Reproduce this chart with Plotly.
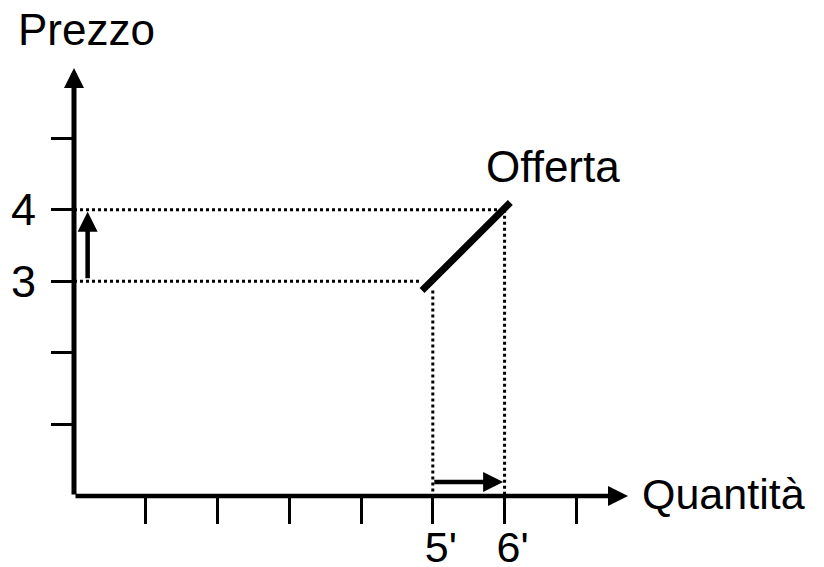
import plotly.graph_objects as go

# ---- data ----
quantities = [5, 6]            # Q before / after
prices = [3, 4]                # P before / after
supply_q = [4.85, 6.08]        # supply segment ("Offerta")
supply_p = [2.87, 4.10]
x_tick_vals = [1, 2, 3, 4, 5, 6, 7]
x_tick_text = ["", "", "", "", "5'", "6'", ""]
y_tick_vals = [1, 2, 3, 4, 5]
y_tick_text = ["", "", "3", "4", ""]
x_max = 7.72
y_max = 5.98

FONT = "Liberation Sans, Arial, sans-serif"

fig = go.Figure()

dot = dict(color="black", width=3, dash="dot")
# horizontal guides
fig.add_trace(go.Scatter(x=[0, quantities[1]], y=[prices[1], prices[1]], mode="lines", line=dot, hoverinfo="skip"))
fig.add_trace(go.Scatter(x=[0, supply_q[0]], y=[prices[0], prices[0]], mode="lines", line=dot, hoverinfo="skip"))
# vertical guides
fig.add_trace(go.Scatter(x=[quantities[1], quantities[1]], y=[prices[1], 0], mode="lines", line=dot, hoverinfo="skip"))
fig.add_trace(go.Scatter(x=[quantities[0], quantities[0]], y=[supply_p[0], 0], mode="lines", line=dot, hoverinfo="skip"))

# supply line
fig.add_trace(go.Scatter(x=supply_q, y=supply_p, mode="lines",
                         line=dict(color="black", width=7), hoverinfo="skip"))

def arrow(x0, y0, x1, y1, width=4.5):
    fig.add_annotation(x=x1, y=y1, ax=x0, ay=y0, xref="x", yref="y",
                       axref="x", ayref="y", showarrow=True, text="",
                       arrowhead=2, arrowsize=4.0 / width, arrowwidth=width,
                       arrowcolor="black", standoff=0)

# axes with arrow heads
arrow(0, 0, x_max, 0, 4.5)
arrow(0, 0, 0, y_max, 5)
# shift arrows
arrow(0.19, prices[0] + 0.02, 0.19, prices[1] - 0.03, 4.5)
arrow(quantities[0], 0.195, quantities[1] - 0.02, 0.195, 4.5)

# text labels
fig.add_annotation(x=-0.105, y=1.09, xref="paper", yref="paper", text="Prezzo", showarrow=False,
                   xanchor="left", yanchor="middle", font=dict(family=FONT, size=44, color="black"))
fig.add_annotation(x=1.022, y=0.004, xref="paper", yref="paper", text="Quantità", showarrow=False,
                   xanchor="left", yanchor="middle", font=dict(family=FONT, size=43, color="black"))
fig.add_annotation(x=5.72, y=4.6, xref="x", yref="y", text="Offerta", showarrow=False,
                   xanchor="left", yanchor="middle", font=dict(family=FONT, size=44, color="black"))

# the page adds an 8px body margin, so the figure is kept 8px smaller
fig.update_layout(
    width=816, height=559,
    margin=dict(l=66, r=196, t=60, b=71, autoexpand=False),
    paper_bgcolor="white", plot_bgcolor="white",
    showlegend=False,
    xaxis=dict(range=[0, x_max], showgrid=False, zeroline=False, showline=False,
               automargin=False,
               tickmode="array", tickvals=x_tick_vals, ticktext=x_tick_text,
               ticks="outside", ticklen=27, tickwidth=3, tickcolor="black",
               tickfont=dict(family=FONT, size=43, color="black"),
               ticklabelshift=8, ticklabelstandoff=-14, fixedrange=True),
    yaxis=dict(range=[0, y_max], showgrid=False, zeroline=False, showline=False,
               automargin=False,
               tickmode="array", tickvals=y_tick_vals, ticktext=y_tick_text,
               ticks="outside", ticklen=22, tickwidth=3, tickcolor="black",
               tickfont=dict(family=FONT, size=45, color="black"),
               ticklabelstandoff=6, fixedrange=True),
)

fig.write_html("out.html")
